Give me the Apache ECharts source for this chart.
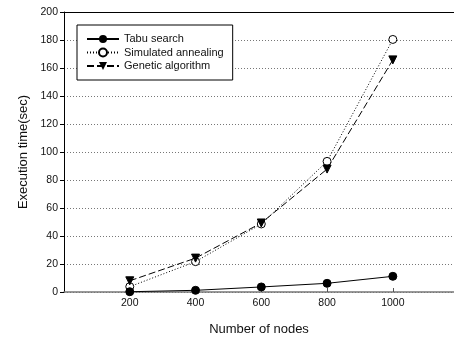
<!DOCTYPE html>
<html><head><meta charset="utf-8">
<script src="https://cdn.jsdelivr.net/npm/echarts@6/dist/echarts.min.js"></script>
<style>html,body{margin:0;padding:0;background:#fff}#c{width:454px;height:352px}</style>
</head><body><div id="c"></div>
<script>
const nodes = [200, 400, 600, 800, 1000];
const tabu = [0.2, 1.2, 3.6, 6.2, 11.2];
const annealing = [3.8, 21.7, 48.6, 93.3, 180.4];
const genetic = [8, 24.2, 49.3, 87.8, 165.8];
const seriesNames = ['Tabu search', 'Simulated annealing', 'Genetic algorithm'];
const yTicks = [0, 20, 40, 60, 80, 100, 120, 140, 160, 180, 200];

const font = 'Liberation Sans, Arial, sans-serif';
const pair = arr => nodes.map((n, i) => [n, arr[i]]);
const chart = echarts.init(document.getElementById('c'), null, {renderer: 'canvas'});
chart.setOption({
  animation: false,
  backgroundColor: '#fff',
  textStyle: {fontFamily: font},
  grid: {left: 64, top: 12, right: 0, bottom: 60},
  legend: {
    left: 77, top: 25, orient: 'vertical',
    data: seriesNames,
    itemWidth: 32, itemHeight: 10, itemGap: 2.5,
    padding: [8.5, 9, 8.5, 9],
    borderColor: '#000', borderWidth: 1, backgroundColor: '#fff',
    textStyle: {fontFamily: font, fontSize: 11, color: '#111'}
  },
  xAxis: [{
    type: 'value', min: 0, max: 1186,
    name: 'Number of nodes', nameLocation: 'middle', nameGap: 31,
    nameTextStyle: {fontFamily: font, fontSize: 13, color: '#111'},
    axisLine: {lineStyle: {color: '#777', width: 1.5}},
    axisTick: {inside: true, length: 4, lineStyle: {color: '#555'}, customValues: nodes},
    axisLabel: {customValues: nodes, formatter: v => String(v), fontFamily: font, fontSize: 10.5, color: '#111', margin: 6},
    splitLine: {show: false}
  }, {
    type: 'value', min: 0, max: 1186, position: 'top',
    axisLine: {show: true, lineStyle: {color: '#000', width: 1}},
    axisTick: {show: false}, axisLabel: {show: false}, splitLine: {show: false}
  }],
  yAxis: {
    type: 'value', min: 0, max: 200, interval: 20,
    name: 'Execution time(sec)', nameLocation: 'middle', nameGap: 27,
    nameTextStyle: {fontFamily: font, fontSize: 13, color: '#111'},
    axisLine: {show: true, lineStyle: {color: '#000', width: 1}},
    axisTick: {show: true, length: 4, lineStyle: {color: '#000'}},
    axisLabel: {fontFamily: font, fontSize: 10.5, color: '#111', margin: 6},
    splitLine: {show: true, lineStyle: {color: '#777', type: [1, 2], width: 1}}
  },
  series: [{
    name: seriesNames[0], type: 'line', data: pair(tabu),
    symbol: 'circle', symbolSize: 8, z: 3,
    lineStyle: {color: '#000', width: 1},
    itemStyle: {color: '#000', borderColor: '#000'}
  }, {
    name: seriesNames[1], type: 'line', data: pair(annealing),
    symbol: 'circle', symbolSize: 8, z: 2,
    lineStyle: {color: '#000', width: 1, type: [1, 2]},
    itemStyle: {color: '#fff', borderColor: '#000', borderWidth: 1}
  }, {
    name: seriesNames[2], type: 'line', data: pair(genetic),
    symbol: 'triangle', symbolRotate: 180, symbolSize: 8, z: 2,
    lineStyle: {color: '#000', width: 1, type: [7, 3]},
    itemStyle: {color: '#000', borderColor: '#000'}
  }]
});
</script></body></html>
